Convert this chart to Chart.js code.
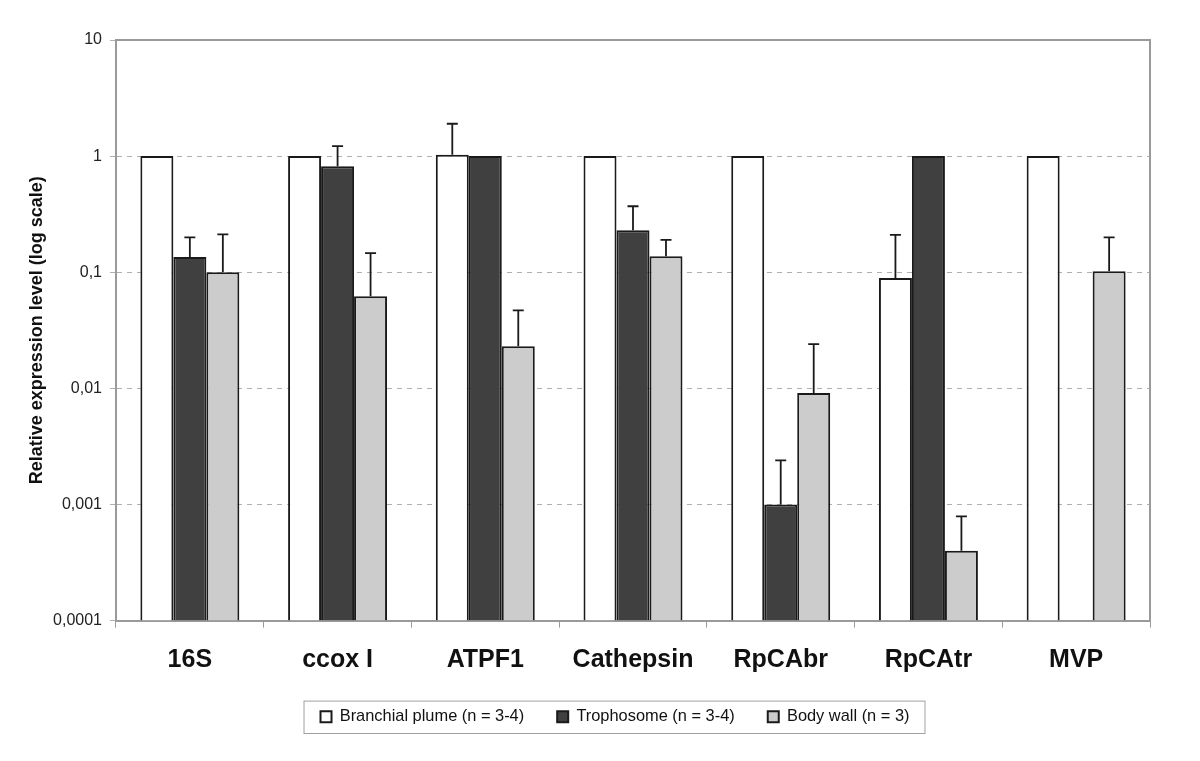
<!DOCTYPE html>
<html>
<head>
<meta charset="utf-8">
<script src="https://cdn.jsdelivr.net/npm/chart.js@4"></script>
<style>
  body { margin: 0; background: #fff; }
  canvas { display: block; }
</style>
</head>
<body>
<canvas id="chart" width="1200" height="761"></canvas>
<script>
const categories = ["16S", "ccox I", "ATPF1", "Cathepsin", "RpCAbr", "RpCAtr", "MVP"];

const branchial = [1, 1, 1.03, 1, 1, 0.089, 1];
const branchialErr = [null, null, 1.9, null, null, 0.21, null];

const tropho = [0.135, 0.82, 1, 0.23, 0.001, 1, null];
const trophoErr = [0.2, 1.22, null, 0.37, 0.0024, null, null];

const bodyWall = [0.1, 0.062, 0.023, 0.137, 0.0091, 0.0004, 0.102];
const bodyWallErr = [0.212, 0.146, 0.047, 0.19, 0.024, 0.00079, 0.2];

const yTicks = [10, 1, 0.1, 0.01, 0.001, 0.0001];

const errors = [branchialErr, trophoErr, bodyWallErr];

// draws the upper error bars (with caps) on top of the bars
const errorBars = {
    id: "errorBars",
    afterDatasetsDraw(chart) {
        const ctx = chart.ctx;
        const y = chart.scales.y;
        ctx.save();
        ctx.strokeStyle = "#1a1a1a";
        ctx.lineWidth = 1.8;
        chart.data.datasets.forEach((ds, i) => {
            const meta = chart.getDatasetMeta(i);
            meta.data.forEach((bar, j) => {
                const e = errors[i][j];
                if (e == null || ds.data[j] == null) return;
                const top = y.getPixelForValue(e);
                ctx.beginPath();
                ctx.moveTo(bar.x, bar.y);
                ctx.lineTo(bar.x, top);
                ctx.moveTo(bar.x - 5.5, top);
                ctx.lineTo(bar.x + 5.5, top);
                ctx.stroke();
            });
        });
        ctx.restore();
    }
};

// top and right border of the plot, plus the frame round the legend
const frame = {
    id: "frame",
    afterLayout(chart) {
        // the legend sits a little right of the canvas centre
        chart.legend.left += 40;
        chart.legend.right += 40;
    },
    beforeDatasetsDraw(chart) {
        const { ctx, chartArea: a } = chart;
        ctx.save();
        ctx.strokeStyle = "#9a9a9a";
        ctx.lineWidth = 2;
        ctx.beginPath();
        ctx.moveTo(a.left, a.top);
        ctx.lineTo(a.right, a.top);
        ctx.lineTo(a.right, a.bottom);
        ctx.stroke();
        ctx.restore();
    },
    afterDraw(chart) {
        const boxes = chart.legend.legendHitBoxes;
        if (!boxes || !boxes.length) return;
        const left = Math.min(...boxes.map(b => b.left)) - 17;
        const right = Math.max(...boxes.map(b => b.left + b.width)) + 15;
        const top = Math.min(...boxes.map(b => b.top)) - 8;
        const bottom = Math.max(...boxes.map(b => b.top + b.height)) + 8;
        const ctx = chart.ctx;
        ctx.save();
        ctx.strokeStyle = "#a0a0a0";
        ctx.lineWidth = 1;
        ctx.strokeRect(left + 0.5, top + 0.5, right - left, bottom - top);
        ctx.restore();
    }
};

new Chart(document.getElementById("chart"), {
    type: "bar",
    data: {
        labels: categories,
        datasets: [
            {
                label: "Branchial plume (n = 3-4)",
                data: branchial,
                backgroundColor: "#ffffff",
                borderColor: "#1a1a1a",
                borderWidth: 2
            },
            {
                label: "Trophosome (n = 3-4)",
                data: tropho,
                backgroundColor: "#404040",
                borderColor: "#1a1a1a",
                borderWidth: 2
            },
            {
                label: "Body wall (n = 3)",
                data: bodyWall,
                backgroundColor: "#cccccc",
                borderColor: "#1a1a1a",
                borderWidth: 2
            }
        ]
    },
    options: {
        responsive: false,
        animation: false,
        devicePixelRatio: 1,
        layout: { padding: { top: 40, right: 50, left: 0, bottom: 26 } },
        plugins: {
            tooltip: { enabled: false },
            legend: {
                position: "bottom",
                labels: {
                    boxWidth: 11,
                    boxHeight: 11,
                    padding: 33,
                    color: "#111",
                    font: { family: "Liberation Sans, Arial", size: 16.4 }
                }
            }
        },
        datasets: {
            bar: { categoryPercentage: 0.67, barPercentage: 1 }
        },
        scales: {
            x: {
                grid: {
                    offset: true,
                    drawOnChartArea: false,
                    drawTicks: true,
                    tickLength: 7,
                    color: "#9a9a9a"
                },
                border: { color: "#9a9a9a", width: 2 },
                ticks: {
                    color: "#111",
                    padding: 18,
                    font: { family: "Liberation Sans, Arial", size: 25, weight: "bold" }
                },
                afterFit(scale) { scale.height = 55; }
            },
            y: {
                type: "logarithmic",
                min: 0.0001,
                max: 10,
                afterBuildTicks(scale) {
                    scale.ticks = yTicks.map(v => ({ value: v }));
                },
                ticks: {
                    color: "#222",
                    padding: 8,
                    font: { family: "Liberation Sans, Arial", size: 16 },
                    callback: v => String(v).replace(".", ",")
                },
                grid: {
                    color: ctx => (ctx.tick && (ctx.tick.value === 10 || ctx.tick.value === 0.0001)) ? "rgba(0,0,0,0)" : "#b0b0b0",
                    tickColor: "#b0b0b0",
                    tickLength: 6,
                    lineWidth: 1
                },
                border: { color: "#9a9a9a", width: 2, dash: [5, 5] },
                title: {
                    display: true,
                    text: "Relative expression level (log scale)",
                    color: "#111",
                    padding: { top: 26, bottom: 0 },
                    font: { family: "Liberation Sans, Arial", size: 18, weight: "bold" }
                },
                afterFit(scale) { scale.width = 116; }
            }
        }
    },
    plugins: [errorBars, frame]
});
</script>
</body>
</html>
